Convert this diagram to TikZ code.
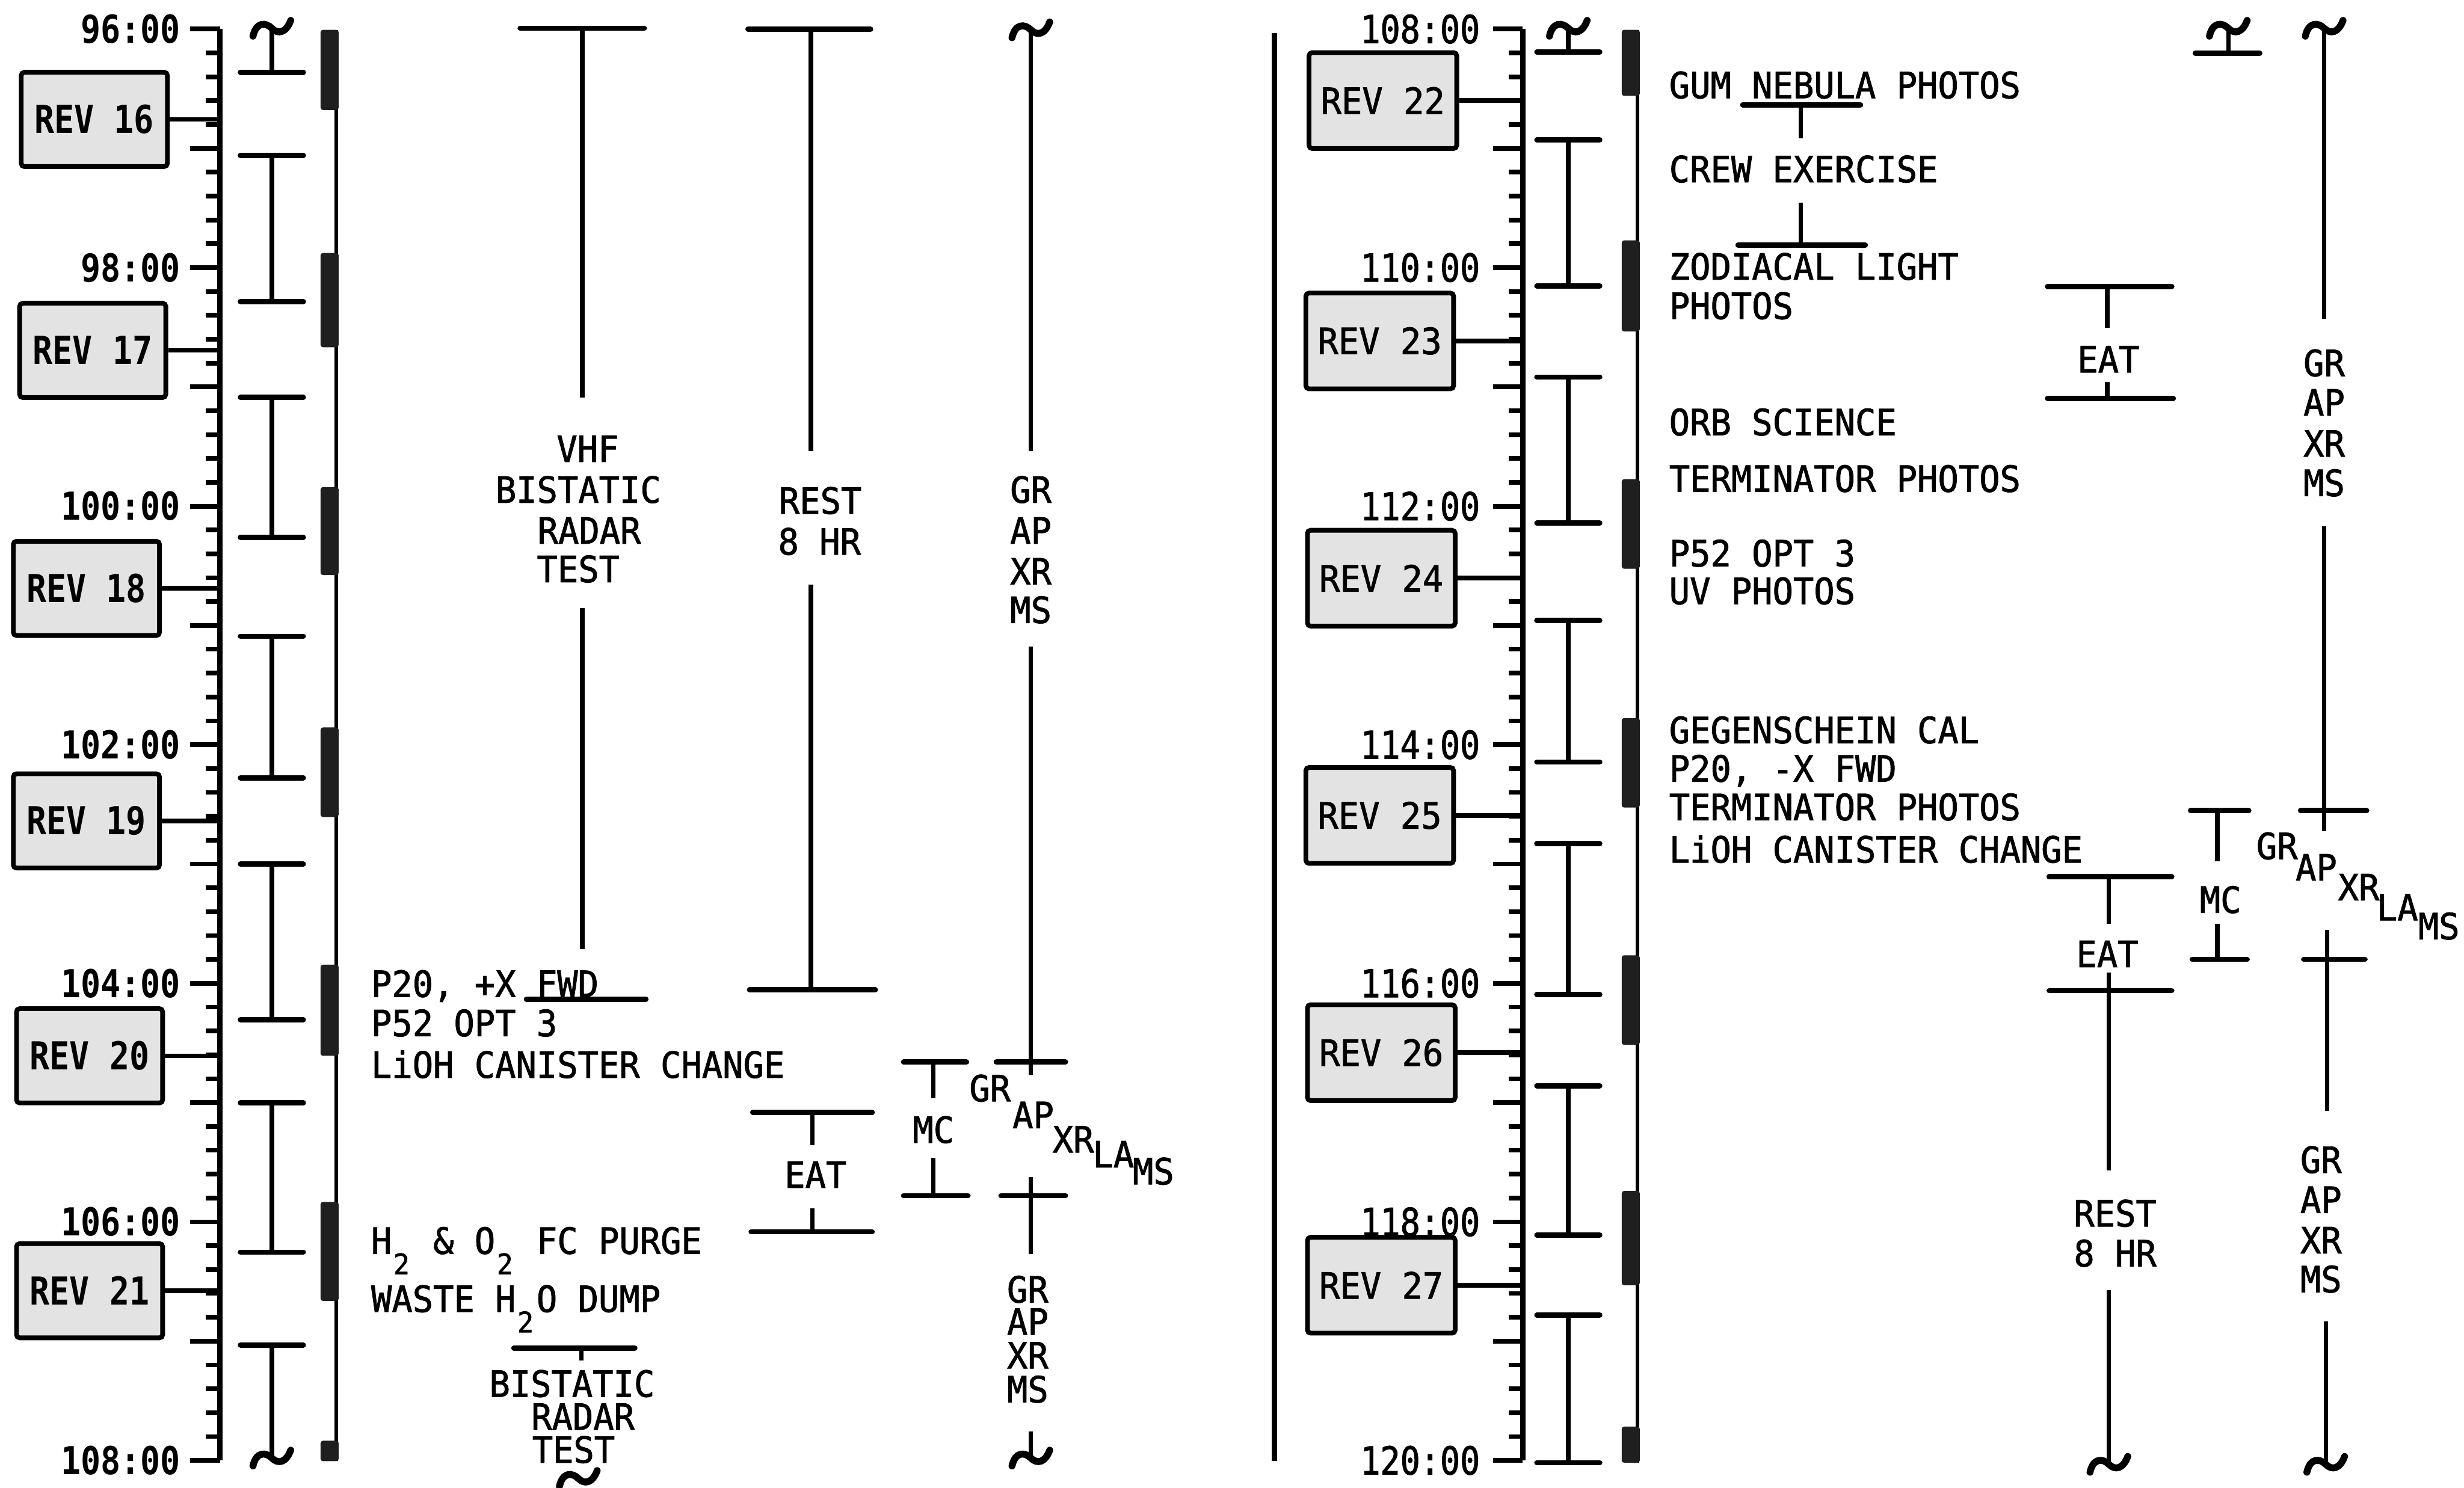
\documentclass[tikz,border=0pt]{standalone}
\usepackage{fontspec}
\newfontfamily\txtfont[FakeStretch=0.95,FakeBold=1.5]{DejaVu Sans Mono}
\newfontfamily\timefont[FakeStretch=0.86,UprightFeatures={FakeBold=1.5}]{DejaVu Sans Mono}
\newcommand\lowtwo{\makebox[0pt][l]{\hspace{1pt}\raisebox{-13pt}{\fontsize{18}{18}\selectfont 2}}\phantom{0}}
\newcommand\tlIbar[4]{%
  \draw[stemline] (#1,#2) -- (#1,#3);
  \draw[barline] ({#1-#4},#2) -- ({#1+#4},#2);
  \draw[barline] ({#1-#4},#3) -- ({#1+#4},#3);}
\newcommand\tlSquig[2]{\draw[squigline] ({#1-12},{#2+5}) .. controls ({#1-10},{#2-4}) and ({#1-4},{#2-4}) .. (#1,#2) .. controls ({#1+4},{#2+4}) and ({#1+9},{#2+3}) .. ({#1+12},{#2-5});}
\begin{document}
\begin{tikzpicture}[x=1pt,y=-1pt,
  axisline/.style={line width=3.4pt},
  tickline/.style={line width=3pt},
  barline/.style={line width=3.4pt,line cap=round},
  stemline/.style={line width=2.8pt},
  thinline/.style={line width=2.2pt},
  squigline/.style={line width=4.4pt,line cap=round},
  darkbar/.style={fill=black!88,rounded corners=1.5pt},
  txt/.style={font=\txtfont\fontsize{23}{25}\selectfont,inner sep=0pt},
  tlabL/.style={font=\timefont\bfseries\fontsize{24.5}{26}\selectfont,inner sep=0pt,anchor=east},
  tlabR/.style={font=\timefont\fontsize{24.5}{26}\selectfont,inner sep=0pt,anchor=east},
  revL/.style={draw,line width=3pt,fill=black!11,rounded corners=2pt,minimum width=93pt,minimum height=60pt,inner sep=0pt,font=\timefont\bfseries\fontsize{24.5}{26}\selectfont},
  revR/.style={draw,line width=3pt,fill=black!11,rounded corners=2pt,minimum width=94pt,minimum height=61pt,inner sep=0pt,font=\txtfont\fontsize{23}{25}\selectfont}]
\useasboundingbox (0,0) rectangle (1568,947);
\fill[white] (0,0) rectangle (1568,947);

% ---------- axes and ticks ----------
\coordinate (axL) at (140,0);
\coordinate (axR) at (969,0);
\draw[axisline] (140,18.5) -- (140,929.5);
\draw[axisline] (969,18.5) -- (969,929.5);
\foreach \i in {0,...,60}{
  \pgfmathsetmacro\yy{18.5+\i*15.1833}
  \pgfmathtruncatemacro\mm{mod(\i,5)}
  \ifnum\mm=0
    \draw[tickline] (121,\yy) -- (140,\yy);
    \draw[tickline] (950,\yy) -- (969,\yy);
  \else
    \draw[tickline] (131,\yy) -- (140,\yy);
    \draw[tickline] (960,\yy) -- (969,\yy);
  \fi
}
\foreach \t/\yy in {96/18.5,98/170.3,100/322.2,102/474,104/625.8,106/777.7,108/929.5}{
  \node[tlabL] (tl\t) at (115,\yy) {\t:00};}
\foreach \t/\yy in {108/18.5,110/170.3,112/322.2,114/474,116/625.8,118/777.7,120/929.5}{
  \node[tlabR] (tr\t) at (942,\yy) {\t:00};}

% ---------- REV boxes ----------
\node[revL] (rev16) at (60,76) {REV 16};
\node[revL] (rev17) at (59,223) {REV 17};
\node[revL] (rev18) at (55,374.5) {REV 18};
\node[revL] (rev19) at (55,522.5) {REV 19};
\node[revL] (rev20) at (57,672) {REV 20};
\node[revL] (rev21) at (57,821.5) {REV 21};
\foreach \r in {16,...,21}{\draw[tickline] (rev\r.east) -- (rev\r.east -| axL);}
\node[revR] (rev22) at (880,64) {REV 22};
\node[revR] (rev23) at (878,217) {REV 23};
\node[revR] (rev24) at (879,368) {REV 24};
\node[revR] (rev25) at (878,519) {REV 25};
\node[revR] (rev26) at (879,670) {REV 26};
\node[revR] (rev27) at (879,818) {REV 27};
\foreach \r in {22,...,27}{\draw[tickline] (rev\r.east) -- (rev\r.east -| axR);}

% ---------- I-bar columns ----------
\tlSquig{173}{18}
\draw[stemline] (173,18) -- (173,46);
\draw[barline] (153,46) -- (193,46);
\tlIbar{173}{99}{192}{20}
\tlIbar{173}{253}{342}{20}
\tlIbar{173}{405}{495}{20}
\tlIbar{173}{550}{649}{20}
\tlIbar{173}{702}{797}{20}
\draw[barline] (153,856) -- (193,856);
\draw[stemline] (173,856) -- (173,928);
\tlSquig{173}{928}

\tlSquig{998}{18}
\draw[stemline] (998,18) -- (998,33);
\draw[barline] (978,33) -- (1018,33);
\tlIbar{998}{89}{182}{20}
\tlIbar{998}{240}{333}{20}
\tlIbar{998}{395}{485}{20}
\tlIbar{998}{537}{633}{20}
\tlIbar{998}{691}{786}{20}
\tlIbar{998}{837}{931}{20}

% ---------- dark bars ----------
\draw[thinline] (214,19) -- (214,930);
\foreach \a/\b in {19/70,161/221,310/366,463/520,614/672,765/828,917/930}{
  \fill[darkbar] (204,\a) rectangle (215.5,\b);}
\draw[thinline] (1042,19) -- (1042,931);
\foreach \a/\b in {19/61,153/211,305/362,457/514,608/665,758/818,908/931}{
  \fill[darkbar] (1032,\a) rectangle (1043.5,\b);}

% separator
\draw[line width=3.5pt] (811,21) -- (811,930);

% ---------- left panel content ----------
% VHF bistatic radar test
\draw[barline] (331,18) -- (410,18);
\draw[stemline] (370.5,18) -- (370.5,253);
\node[txt,anchor=base] (vhf1) at (374,294) {VHF};
\node[txt,anchor=base] (vhf2) at (368,320) {BISTATIC};
\node[txt,anchor=base] (vhf3) at (375,346) {RADAR};
\node[txt,anchor=base] (vhf4) at (368,370.5) {TEST};
\draw[stemline] (370.5,387) -- (370.5,604);
\draw[barline] (335,636) -- (411,636);

% REST 8 HR
\draw[barline] (476,18.6) -- (554,18.6);
\draw[stemline] (516,18.6) -- (516,287);
\node[txt,anchor=base] (restL1) at (522,327) {REST};
\node[txt,anchor=base] (restL2) at (521.5,353) {8 HR};
\draw[stemline] (516,372) -- (516,630);
\draw[barline] (477,630) -- (557,630);

% GR AP XR MS upper
\tlSquig{656}{19}
\draw[stemline] (656,19) -- (656,287);
\node[txt,anchor=base] (gL1) at (656,320) {GR};
\node[txt,anchor=base] (gL2) at (656,346) {AP};
\node[txt,anchor=base] (gL3) at (656,372) {XR};
\node[txt,anchor=base] (gL4) at (656,396.5) {MS};
\draw[stemline] (656,411.5) -- (656,684);
\draw[barline] (634,676) -- (678,676);

% MC
\draw[barline] (575,676) -- (615,676);
\draw[stemline] (594,676) -- (594,699);
\node[txt,anchor=base] (mcL) at (594,727.4) {MC};
\draw[stemline] (594,737) -- (594,761);
\draw[barline] (575,761) -- (616,761);

% EAT
\draw[barline] (479,708) -- (555,708);
\draw[stemline] (517,708) -- (517,729);
\node[txt,anchor=base] (eatL) at (519,756) {EAT};
\draw[stemline] (517,769) -- (517,784);
\draw[barline] (478,784) -- (555,784);

% staircase
\node[txt,anchor=base] (sL1) at (630,701) {GR};
\node[txt,anchor=base] (sL2) at (657.5,718) {AP};
\node[txt,anchor=base] (sL3) at (683,733.5) {XR};
\node[txt,anchor=base] (sL4) at (708.5,743) {LA};
\node[txt,anchor=base] (sL5) at (734,753.8) {MS};

% GR AP XR MS lower
\draw[barline] (637,761) -- (678,761);
\draw[stemline] (656,749) -- (656,798);
\node[txt,anchor=base] (hL1) at (654,829) {GR};
\node[txt,anchor=base] (hL2) at (654,849.5) {AP};
\node[txt,anchor=base] (hL3) at (654,871) {XR};
\node[txt,anchor=base] (hL4) at (654,892.6) {MS};
\draw[stemline] (656,911) -- (656,928);
\tlSquig{656}{928}

% activity texts
\node[txt,anchor=base west] (p20a) at (236,634.5) {P20, +X FWD};
\node[txt,anchor=base west] (p52a) at (236,659.5) {P52 OPT 3};
\node[txt,anchor=base west] (lioha) at (236,686) {LiOH CANISTER CHANGE};
\node[txt,anchor=base west] (purge) at (236,798) {H\lowtwo{} \& O\lowtwo{} FC PURGE};
\node[txt,anchor=base west] (waste) at (236,835) {WASTE H\lowtwo{}O DUMP};

% bistatic radar test (bottom)
\draw[barline] (327,858) -- (404,858);
\draw[stemline] (370,858) -- (370,866);
\node[txt,anchor=base] (bL1) at (364,889) {BISTATIC};
\node[txt,anchor=base] (bL2) at (371,910) {RADAR};
\node[txt,anchor=base] (bL3) at (365,931) {TEST};
\tlSquig{368}{941}

% ---------- right panel content ----------
\node[txt,anchor=base west] (r1) at (1062,62.5) {GUM NEBULA PHOTOS};
\node[txt,anchor=base west] (r2) at (1062,116) {CREW EXERCISE};
\node[txt,anchor=base west] (r3) at (1062,178) {ZODIACAL LIGHT};
\node[txt,anchor=base west] (r4) at (1062,203) {PHOTOS};
\node[txt,anchor=base west] (r5) at (1062,277) {ORB SCIENCE};
\node[txt,anchor=base west] (r6) at (1062,313) {TERMINATOR PHOTOS};
\node[txt,anchor=base west] (r7) at (1062,360.5) {P52 OPT 3};
\node[txt,anchor=base west] (r8) at (1062,384.5) {UV PHOTOS};
\node[txt,anchor=base west] (r9) at (1062,473) {GEGENSCHEIN CAL};
\node[txt,anchor=base west] (r10) at (1062,497.5) {P20, -X FWD};
\node[txt,anchor=base west] (r11) at (1062,522) {TERMINATOR PHOTOS};
\node[txt,anchor=base west] (r12) at (1062,549) {LiOH CANISTER CHANGE};

% crew exercise marker
\draw[barline] (1109,66.7) -- (1184,66.7);
\draw[stemline] (1146,66.7) -- (1146,88);
\draw[stemline] (1146,129) -- (1146,156);
\draw[barline] (1106,156) -- (1187,156);

% small squiggle item
\tlSquig{1418}{18}
\draw[stemline] (1418,18) -- (1418,34);
\draw[barline] (1397,34) -- (1438,34);

% GR AP XR MS upper right
\tlSquig{1479}{18}
\draw[stemline] (1479,18) -- (1479,203);
\node[txt,anchor=base] (gR1) at (1479,239.4) {GR};
\node[txt,anchor=base] (gR2) at (1479,264.5) {AP};
\node[txt,anchor=base] (gR3) at (1479,290.6) {XR};
\node[txt,anchor=base] (gR4) at (1479,315.7) {MS};
\draw[stemline] (1479,335) -- (1479,529);
\draw[barline] (1464,516) -- (1506,516);

% EAT upper right
\draw[barline] (1303,182.3) -- (1382,182.3);
\draw[stemline] (1341,182.3) -- (1341,208.5);
\node[txt,anchor=base] (eatR1) at (1341.7,237) {EAT};
\draw[stemline] (1341,243) -- (1341,253.5);
\draw[barline] (1303,253.5) -- (1383,253.5);

% MC right
\draw[barline] (1394,516) -- (1431,516);
\draw[stemline] (1411,516) -- (1411,548);
\node[txt,anchor=base] (mcR) at (1413,581) {MC};
\draw[stemline] (1411,588) -- (1411,610.6);
\draw[barline] (1395,610.6) -- (1430,610.6);

% staircase right
\node[txt,anchor=base] (sR1) at (1449,546.8) {GR};
\node[txt,anchor=base] (sR2) at (1474,560.4) {AP};
\node[txt,anchor=base] (sR3) at (1501,573) {XR};
\node[txt,anchor=base] (sR4) at (1525.6,585.8) {LA};
\node[txt,anchor=base] (sR5) at (1552,597.8) {MS};

% GR AP XR MS lower right
\draw[barline] (1466,610.6) -- (1505,610.6);
\draw[stemline] (1481,592) -- (1481,707);
\node[txt,anchor=base] (hR1) at (1477,746.5) {GR};
\node[txt,anchor=base] (hR2) at (1477,772) {AP};
\node[txt,anchor=base] (hR3) at (1477,797.7) {XR};
\node[txt,anchor=base] (hR4) at (1477,822.5) {MS};
\draw[stemline] (1480,841) -- (1480,932);
\tlSquig{1480}{932}

% EAT + REST lower right
\draw[barline] (1304,558) -- (1382,558);
\draw[stemline] (1342,558) -- (1342,588);
\node[txt,anchor=base] (eatR2) at (1341,615.5) {EAT};
\draw[stemline] (1342,619) -- (1342,745);
\draw[barline] (1304,630.5) -- (1382,630.5);
\node[txt,anchor=base] (restR1) at (1346,780.6) {REST};
\node[txt,anchor=base] (restR2) at (1346,806) {8 HR};
\draw[stemline] (1342,821) -- (1342,932);
\tlSquig{1342}{932}
\end{tikzpicture}
\end{document}
